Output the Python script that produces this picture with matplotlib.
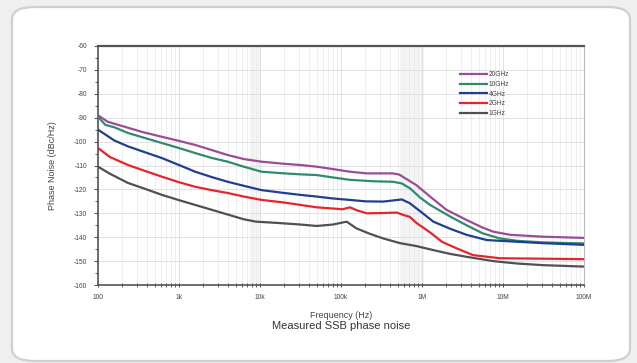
import numpy as np
import matplotlib
matplotlib.use("Agg")
import matplotlib.pyplot as plt
from matplotlib.patches import FancyBboxPatch
from matplotlib.ticker import FixedLocator, LogLocator, NullFormatter, MultipleLocator

plt.rcParams['font.family'] = ['Liberation Sans', 'DejaVu Sans']

# ---- data (log10 of frequency in Hz, phase noise in dBc/Hz) ----
labels = ["20GHz", "10GHz", "4GHz", "2GHz", "1GHz"]
colors = ["#9a4c97", "#2f8a70", "#213f8e", "#e3262c", "#505050"]

logf_20g = [2.0, 2.12, 2.33, 2.55, 2.79, 3.0, 3.2, 3.4, 3.6, 3.8, 4.02, 4.3, 4.5, 4.7, 4.9,
            5.11, 5.32, 5.5, 5.64, 5.72, 5.8, 5.93, 6.1, 6.3, 6.55, 6.75, 6.88, 7.09, 7.5, 8.0]
pn_20g = [-89, -91.7, -93.8, -96, -98, -99.7, -101.4, -103.5, -105.6, -107.3, -108.4, -109.3,
          -109.8, -110.5, -111.5, -112.6, -113.3, -113.3, -113.3, -113.8, -115.5, -118.2, -123,
          -128.5, -132.8, -136, -137.7, -139, -139.8, -140.3]

logf_10g = [2.0, 2.09, 2.2, 2.37, 2.6, 2.79, 3.0, 3.2, 3.4, 3.6, 3.8, 4.02, 4.3, 4.5, 4.7, 4.9,
            5.11, 5.4, 5.64, 5.75, 5.85, 5.98, 6.1, 6.35, 6.55, 6.75, 6.96, 7.17, 7.5, 8.0]
pn_10g = [-89.6, -93, -94, -96.4, -98.7, -100.6, -102.7, -104.8, -106.8, -108.4, -110.5, -112.6,
          -113.3, -113.7, -114, -115, -116, -116.6, -116.8, -117.5, -119.5, -123.5, -126.5,
          -131.4, -135, -138.4, -140.5, -141.5, -142.2, -142.6]

logf_4g = [2.0, 2.2, 2.37, 2.6, 2.79, 3.0, 3.2, 3.4, 3.6, 3.8, 4.02, 4.3, 4.5, 4.7, 4.9, 5.11,
           5.3, 5.52, 5.65, 5.75, 5.85, 6.01, 6.14, 6.35, 6.55, 6.8, 7.17, 7.5, 8.0]
pn_4g = [-95, -99.5, -102, -104.7, -106.9, -109.8, -112.6, -114.8, -116.8, -118.5, -120.3,
         -121.5, -122.3, -123, -123.8, -124.4, -125, -125.1, -124.6, -124.2, -125.8, -130,
         -133.5, -136.5, -139, -141.2, -141.9, -142.5, -143.2]

logf_2g = [2.0, 2.15, 2.37, 2.6, 2.79, 3.0, 3.2, 3.4, 3.6, 3.8, 4.02, 4.3, 4.5, 4.7, 4.9, 5.02,
           5.11, 5.2, 5.32, 5.5, 5.69, 5.77, 5.85, 5.93, 6.1, 6.25, 6.43, 6.63, 6.96, 7.5, 8.0]
pn_2g = [-102.7, -106.5, -109.8, -112.5, -114.7, -117, -118.9, -120.3, -121.5, -123, -124.4,
         -125.5, -126.5, -127.5, -128, -128.3, -127.5, -128.8, -130, -129.9, -129.7, -130.7,
         -131.5, -134, -138, -142, -144.7, -147.5, -148.8, -149, -149.2]

logf_1g = [2.0, 2.15, 2.37, 2.6, 2.79, 3.0, 3.2, 3.4, 3.6, 3.8, 3.95, 4.2, 4.5, 4.7, 4.9, 5.07,
           5.19, 5.35, 5.52, 5.73, 5.93, 6.14, 6.35, 6.55, 6.88, 7.17, 7.5, 8.0]
pn_1g = [-110.5, -113.5, -117.3, -120, -122.3, -124.5, -126.5, -128.5, -130.5, -132.5, -133.5,
         -134, -134.7, -135.3, -134.7, -133.5, -136.3, -138.5, -140.5, -142.5, -143.7, -145.4,
         -147, -148.2, -150, -151, -151.7, -152.3]

series = [(logf_20g, pn_20g), (logf_10g, pn_10g), (logf_4g, pn_4g),
          (logf_2g, pn_2g), (logf_1g, pn_1g)]

xtick_vals = [1e2, 1e3, 1e4, 1e5, 1e6, 1e7, 1e8]
xtick_labels = ["100", "1k", "10k", "100k", "1M", "10M", "100M"]
ytick_vals = [-60, -70, -80, -90, -100, -110, -120, -130, -140, -150, -160]
shade_bands = [(7.6e3, 1.02e4), (5.4e5, 1.05e6)]

# ---- figure ----
W, H = 637, 363
fig = plt.figure(figsize=(W / 100, H / 100), dpi=100, facecolor="#efefef")
panel = FancyBboxPatch((12 / W, 2 / H), (630 - 12) / W, (359 - 5) / H,
                       boxstyle="round,pad=0,rounding_size=0.035",
                       transform=fig.transFigure, facecolor="white",
                       edgecolor="#cfcfcf", linewidth=1.6, zorder=-5)
fig.patches.append(panel)

ax = fig.add_axes([98 / W, 1 - 285 / H, (584 - 98) / W, (285 - 46) / H])
ax.set_zorder(2)
ax.set_facecolor("none")

for lo, hi in shade_bands:
    ax.axvspan(lo, hi, color="#f4f4f4", zorder=0, lw=0)

for (lf, pn), c, lab in zip(series, colors, labels):
    ax.plot(10 ** np.array(lf), pn, color=c, lw=1.6, label=lab, zorder=3)

ax.set_xscale("log")
ax.set_xlim(1e2, 1e8)
ax.set_ylim(-160, -60)
ax.xaxis.set_major_locator(FixedLocator(xtick_vals))
ax.set_xticklabels(xtick_labels)
ax.xaxis.set_minor_locator(LogLocator(base=10, subs=np.arange(2, 10), numticks=20))
ax.xaxis.set_minor_formatter(NullFormatter())
ax.yaxis.set_major_locator(FixedLocator(ytick_vals))
ax.set_yticklabels([str(v) for v in ytick_vals])
ax.yaxis.set_minor_locator(MultipleLocator(5))

ax.grid(True, which="major", color="#dcdcdc", lw=0.6, zorder=1)
ax.grid(True, which="minor", axis="x", color="#e8e8e8", lw=0.5, zorder=1)

ax.tick_params(axis="both", which="major", labelsize=4.8, colors="#444444",
               length=3, width=0.7, pad=5)
ax.tick_params(axis="x", which="both", direction="inout")
ax.tick_params(axis="x", which="minor", length=3, width=0.6, colors="#444444")
ax.tick_params(axis="y", which="minor", length=2, width=0.6, colors="#444444")
for s in ax.spines.values():
    s.set_color("#555555")
    s.set_linewidth(0.8)
ax.spines["top"].set_linewidth(1.6)
ax.spines["left"].set_linewidth(1.2)
ax.spines["bottom"].set_linewidth(1.2)
ax.spines["right"].set_color("#bbbbbb")

ax.set_xlabel("Frequency (Hz)", fontsize=6.5, color="#444444", labelpad=7)
ax.set_ylabel("Phase Noise (dBc/Hz)", fontsize=6.5, color="#444444", labelpad=12)

leg = ax.legend(loc="upper left", bbox_to_anchor=(0.74, 0.905), frameon=False,
                fontsize=4.8, handlelength=4.0, handletextpad=0.3, labelspacing=0.4,
                borderaxespad=0)
for t in leg.get_texts():
    t.set_color("#444444")

fig.text((98 + 584) / 2 / W, 1 - 326 / H, "Measured SSB phase noise",
         ha="center", va="center", fontsize=8, color="#333333")

fig.savefig("out.png", dpi=100, facecolor=fig.get_facecolor())
